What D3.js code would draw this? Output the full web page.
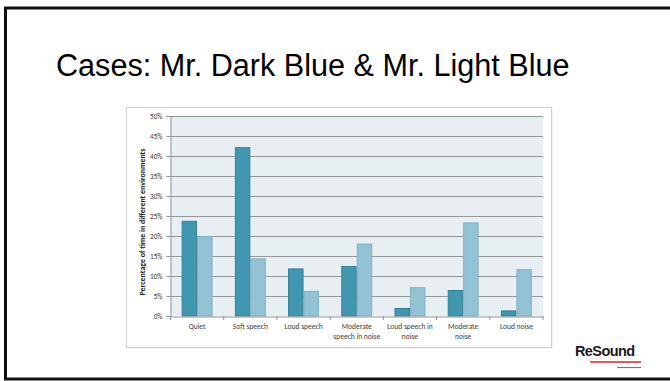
<!DOCTYPE html>
<html>
<head>
<meta charset="utf-8">
<script src="https://cdn.jsdelivr.net/npm/d3@7"></script>
<style>
  html, body { margin: 0; padding: 0; background: #fff; }
  svg { display: block; }
</style>
</head>
<body>
<svg id="slide" width="670" height="381"></svg>
<script>
// Share of listening time per environment for the two cases
const categories = [
  ["Quiet"],
  ["Soft speech"],
  ["Loud speech"],
  ["Moderate", "speech in noise"],
  ["Loud speech in", "noise"],
  ["Moderate", "noise"],
  ["Loud noise"]
];
const darkBlue  = [23.8, 42.2, 11.9, 12.5, 2.0, 6.5, 1.4];
const lightBlue = [20.0, 14.4, 6.3, 18.1, 7.2, 23.4, 11.7];
const yTicks = [0, 5, 10, 15, 20, 25, 30, 35, 40, 45, 50];
const seriesNames = ["Mr. Dark Blue", "Mr. Light Blue"];
const seriesColors = ["#4197b0", "#93c2d4"];
const seriesStroke = ["#357f96", "#7fb0c3"];

const svg = d3.select("#slide");

// Slide frame
svg.append("rect")
  .attr("x", 5.5).attr("y", 8).attr("width", 680).attr("height", 371)
  .attr("fill", "none").attr("stroke", "#111").attr("stroke-width", 3);

// Slide title
svg.append("text")
  .attr("x", 56).attr("y", 76)
  .attr("font-family", "Liberation Sans, Arial, sans-serif")
  .attr("font-size", 30.6)
  .attr("fill", "#000")
  .text("Cases: Mr. Dark Blue & Mr. Light Blue");

// Chart frame
svg.append("rect")
  .attr("x", 127.5).attr("y", 108.5).attr("width", 425).attr("height", 240)
  .attr("fill", "#e6e6e6");
svg.append("rect")
  .attr("x", 126.5).attr("y", 107.5).attr("width", 425).attr("height", 240)
  .attr("fill", "#fff").attr("stroke", "#cfcfcf");

const plot = { left: 170.5, right: 543, top: 116, bottom: 316 };

const x = d3.scaleBand()
  .domain(d3.range(categories.length))
  .range([plot.left, plot.right])
  .paddingInner(0).paddingOuter(0);

const inner = d3.scaleBand()
  .domain([0, 1])
  .range([0, x.bandwidth()])
  .paddingOuter(0.72).paddingInner(0);

const y = d3.scaleLinear().domain([0, 50]).range([plot.bottom, plot.top]);

// Plot background
svg.append("rect")
  .attr("x", plot.left).attr("y", plot.top)
  .attr("width", plot.right - plot.left).attr("height", plot.bottom - plot.top)
  .attr("fill", "#e8eff3");

// Gridlines
svg.append("g")
  .selectAll("line")
  .data(yTicks.filter(d => d > 0))
  .join("line")
  .attr("x1", plot.left).attr("x2", plot.right)
  .attr("y1", d => Math.round(y(d)) + 0.5).attr("y2", d => Math.round(y(d)) + 0.5)
  .attr("stroke", "#94989b").attr("stroke-width", 1);

// Bars
const series = [darkBlue, lightBlue];
series.forEach((vals, s) => {
  svg.append("g")
    .selectAll("rect")
    .data(vals)
    .join("rect")
    .attr("x", (d, i) => x(i) + inner(s) + 0.5)
    .attr("y", d => y(d) + 0.5)
    .attr("width", inner.bandwidth() - 1)
    .attr("height", d => y(0) - y(d) - 0.5)
    .attr("fill", seriesColors[s])
    .attr("stroke", seriesStroke[s])
    .attr("stroke-width", 1)
    .append("title").text(d => seriesNames[s] + ": " + d + "%");
});

// Y axis
const yAxis = d3.axisLeft(y)
  .tickValues(yTicks)
  .tickFormat(d => d + "%")
  .tickSize(4).tickPadding(4);
const gy = svg.append("g")
  .attr("transform", `translate(${plot.left},0)`)
  .call(yAxis);
gy.select(".domain").attr("stroke", "#8f9396");
gy.selectAll(".tick line").attr("stroke", "#8f9396");
gy.selectAll(".tick text")
  .attr("font-family", "Calibri, Carlito, Liberation Sans, sans-serif")
  .attr("font-size", 7.2).attr("fill", "#3a3a3a");

// X axis
const xAxis = d3.axisBottom(x).tickSize(0).tickFormat(() => "");
const gx = svg.append("g")
  .attr("transform", `translate(0,${plot.bottom + 0.5})`)
  .call(xAxis);
gx.select(".domain").attr("stroke", "#8f9396");
gx.selectAll(".tick").remove();

// Category separators
svg.append("g")
  .selectAll("line")
  .data(d3.range(categories.length + 1))
  .join("line")
  .attr("x1", i => (i < categories.length ? x(i) : plot.right))
  .attr("x2", i => (i < categories.length ? x(i) : plot.right))
  .attr("y1", plot.bottom).attr("y2", plot.bottom + 4)
  .attr("stroke", "#8f9396");

// Category labels
svg.append("g")
  .selectAll("text")
  .data(categories)
  .join("text")
  .attr("x", (d, i) => x(i) + x.bandwidth() / 2)
  .attr("y", 329)
  .attr("text-anchor", "middle")
  .attr("font-family", "Calibri, Carlito, Liberation Sans, sans-serif")
  .attr("font-size", 7.5).attr("fill", "#3a3a3a")
  .selectAll("tspan")
  .data(d => d)
  .join("tspan")
  .attr("x", function () { return d3.select(this.parentNode).attr("x"); })
  .attr("dy", (d, j) => (j === 0 ? 0 : 10))
  .text(d => d);

// Y axis title
svg.append("text")
  .attr("transform", `translate(144.5,222) rotate(-90)`)
  .attr("text-anchor", "middle")
  .attr("font-family", "Calibri, Carlito, Liberation Sans, sans-serif")
  .attr("font-size", 7.9).attr("font-weight", "bold").attr("fill", "#222")
  .text("Percentage of time in different environments");

// Brand mark
svg.append("text")
  .attr("x", 575).attr("y", 356)
  .attr("font-family", "Liberation Sans, Arial, sans-serif")
  .attr("font-size", 14.5).attr("font-weight", "bold")
  .attr("fill", "#1a1a1a").attr("letter-spacing", -0.6)
  .text("ReSound");
svg.append("line")
  .attr("x1", 590).attr("x2", 641).attr("y1", 362).attr("y2", 362)
  .attr("stroke", "#d8232a").attr("stroke-width", 1.3);
svg.append("line")
  .attr("x1", 617).attr("x2", 641).attr("y1", 367.5).attr("y2", 367.5)
  .attr("stroke", "#777").attr("stroke-width", 1.2);
</script>
</body>
</html>
